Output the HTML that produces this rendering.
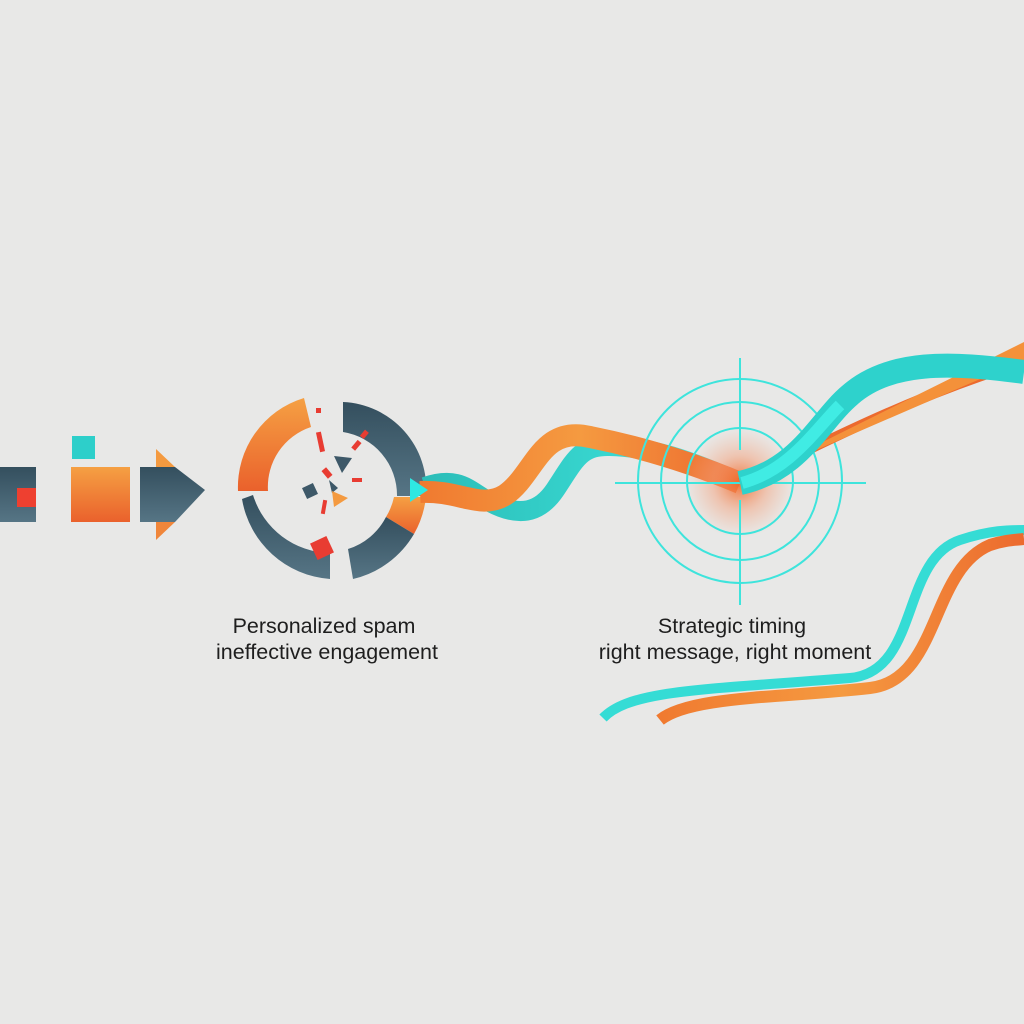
<!DOCTYPE html>
<html><head><meta charset="utf-8"><style>
html,body{margin:0;padding:0;background:#e8e8e7;}
svg{display:block}
text{font-family:"Liberation Sans",sans-serif;font-size:21.5px;fill:#1e1e1e}
</style></head><body>
<svg width="1024" height="1024" viewBox="0 0 1024 1024" xmlns="http://www.w3.org/2000/svg">
<defs>
<linearGradient id="og" x1="0" y1="0" x2="0" y2="1"><stop offset="0" stop-color="#f5a043"/><stop offset="1" stop-color="#ea612c"/></linearGradient>
<linearGradient id="dg" x1="0" y1="0" x2="0" y2="1"><stop offset="0" stop-color="#344f5e"/><stop offset="1" stop-color="#567585"/></linearGradient>
<linearGradient id="tg" x1="0" y1="0" x2="1" y2="0"><stop offset="0" stop-color="#2bbdb8"/><stop offset="1" stop-color="#40e8e0"/></linearGradient>
<linearGradient id="or" x1="0" y1="0" x2="1" y2="0"><stop offset="0" stop-color="#f07a30"/><stop offset="0.5" stop-color="#f59a40"/><stop offset="1" stop-color="#ec6a2e"/></linearGradient>
<radialGradient id="glow" cx="0.5" cy="0.5" r="0.5"><stop offset="0" stop-color="#f06a2a" stop-opacity="0.95"/><stop offset="0.5" stop-color="#f4a07a" stop-opacity="0.5"/><stop offset="1" stop-color="#f4b090" stop-opacity="0"/></radialGradient>
</defs>
<rect width="1024" height="1024" fill="#e8e8e7"/>
<rect x="0" y="467" width="36" height="55" fill="url(#dg)"/>
<rect x="17" y="488" width="19" height="19" fill="#ee4030"/>
<rect x="72" y="436" width="23" height="23" fill="#2dcfca"/>
<rect x="71" y="467" width="59" height="55" fill="url(#og)"/>
<polygon points="156,449 175,467 156,467" fill="#f49a40"/>
<polygon points="156,522 175,522 156,540" fill="#f0863a"/>
<polygon points="140,467 175,467 205,490 175,522 140,522" fill="url(#dg)"/>
<g transform="translate(331,487)">
<path d="M-27,-89 A93,93 0 0 0 -93,4 L-63,4 A63,63 0 0 1 -20,-60 Z" fill="url(#og)"/>
<path d="M12,-85 A87,87 0 0 1 95,9 L66,9 A64,64 0 0 0 12,-55 Z" fill="url(#dg)"/>
<path d="M-78,8 A82,82 0 0 0 -1,66 L-1,92 A96,96 0 0 1 -89,12 Z" fill="url(#dg)"/>
<path d="M95,10 A96,96 0 0 1 83,47 L55,30 A64,64 0 0 0 63,10 Z" fill="url(#og)"/>
<path d="M83,47 A96,96 0 0 1 22,92 L17,62 A64,64 0 0 0 55,30 Z" fill="url(#dg)"/>
</g>
<g fill="#e83c32">
<rect x="316" y="408" width="5" height="5"/>
<rect x="318" y="432" width="5" height="20" transform="rotate(-12 320 442)"/>
<rect x="362" y="430" width="5" height="8" transform="rotate(40 364 434)"/>
<rect x="354" y="440" width="5" height="10" transform="rotate(40 356 445)"/>
<rect x="324" y="468" width="6" height="10" transform="rotate(-40 327 473)"/>
<rect x="352" y="478" width="10" height="4"/>
<rect x="322" y="500" width="4" height="14" transform="rotate(10 324 507)"/>
<rect x="313" y="539" width="18" height="18" transform="rotate(-25 322 548)"/>
</g>
<polygon points="334,456 352,458 342,473" fill="#3d5868"/>
<rect x="304" y="485" width="12" height="12" transform="rotate(-25 310 491)" fill="#3d5868"/>
<polygon points="329,480 338,488 332,493" fill="#3d5868"/>
<polygon points="332,491 348,498 334,507" fill="#f49a40"/>
<path d="M425,487 C460,475 470,492 490,502 C520,518 540,512 555,490 C575,460 580,445 610,446 C650,447 690,460 740,483" fill="none" stroke="url(#tg)" stroke-width="20"/>
<path d="M420,492 C460,490 480,510 505,495 C535,475 540,425 590,437 C640,447 690,462 740,483" fill="none" stroke="url(#or)" stroke-width="22"/>
<circle cx="740" cy="483" r="55" fill="url(#glow)"/>
<polygon points="410,478 428,490 410,502" fill="#2ee8e2"/>
<g fill="none" stroke="#3ee4dc" stroke-width="2">
<ellipse cx="740" cy="481" rx="102" ry="102"/>
<ellipse cx="740" cy="481" rx="79" ry="79"/>
<ellipse cx="740" cy="481" rx="53" ry="53"/>
<line x1="615" y1="483" x2="866" y2="483"/>
<line x1="740" y1="358" x2="740" y2="450"/>
<line x1="740" y1="500" x2="740" y2="605"/>
</g>
<path d="M740,483 C800,455 900,400 1024,362" fill="none" stroke="#ec6a2e" stroke-width="10"/>
<path d="M740,483 L1024,342 L1024,360 Z" fill="#f4913a"/>
<path d="M740,483 C800,470 820,420 850,395 C890,360 950,362 1024,372" fill="none" stroke="#2ed2cc" stroke-width="24"/>
<path d="M742,483 C790,470 815,430 840,405" fill="none" stroke="#40ece4" stroke-width="12"/>
<path d="M603,718 C630,690 700,690 850,678 C920,672 900,560 960,540 C990,530 1010,530 1024,530" fill="none" stroke="#35dcd5" stroke-width="10"/>
<path d="M660,720 C690,696 780,698 870,688 C940,680 930,570 990,545 C1005,540 1015,540 1024,539" fill="none" stroke="url(#or)" stroke-width="12"/>
<text x="324" y="633" text-anchor="middle">Personalized spam</text>
<text x="327" y="659" text-anchor="middle">ineffective engagement</text>
<text x="732" y="633" text-anchor="middle">Strategic timing</text>
<text x="735" y="659" text-anchor="middle">right message, right moment</text>
</svg>
</body></html>
